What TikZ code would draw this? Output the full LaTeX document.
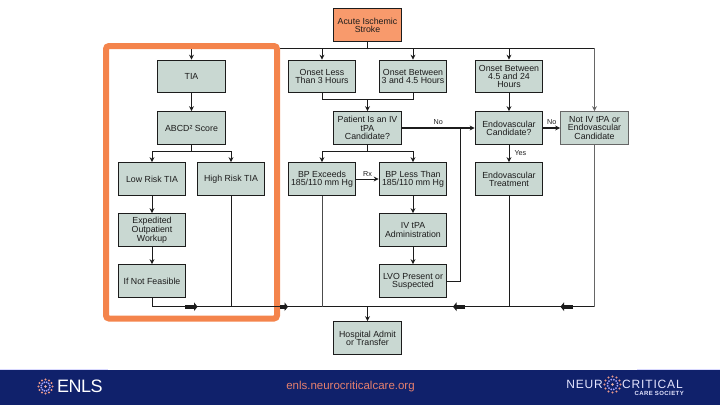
\documentclass[tikz,border=0pt]{standalone}
\usepackage{fontspec}
\setmainfont{Liberation Sans}
\newfontfamily\widefont[LetterSpace=7]{Liberation Sans}
\newfontfamily\logofont[LetterSpace=-3]{Liberation Sans}
\usetikzlibrary{arrows.meta}
\definecolor{boxfill}{HTML}{C9D8D2}
\definecolor{startfill}{HTML}{F89A6C}
\definecolor{frameorange}{HTML}{F4844C}
\definecolor{footnavy}{HTML}{10216B}
\definecolor{footsalmon}{HTML}{E5806E}
\definecolor{inkdark}{HTML}{1C1C1C}
\begin{document}
\begin{tikzpicture}[x=1pt, y=-1pt, font=\fontsize{8.8}{8.2}\selectfont, text=inkdark,
  stepbox/.style={draw=#1, line width=1.2pt, fill=boxfill, minimum width=67.5pt,
                  minimum height=32.5pt, align=center, inner sep=0pt},
  stepbox/.default=inkdark,
  wire/.style={inkdark, line width=1pt},
  arrow/.style={wire, ->, >={Stealth[length=5pt,width=5pt]}},
  fatarrow/.style={inkdark, line width=4pt, -{Triangle[length=3.5pt,width=8.5pt]}},
  greywire/.style={draw=black!60, line width=1.7pt},
  lbl/.style={font=\fontsize{7.2}{7}\selectfont, inner sep=0pt}
]
  \useasboundingbox (0,0) rectangle (720,405);
  % boxes
  \node[stepbox, fill=startfill] (acute) at (367.5,25) {Acute Ischemic\\Stroke};
  \node[stepbox] (tia)     at (191.5,76.5)  {TIA};
  \node[stepbox] (abcd)    at (191.5,128)   {ABCD² Score};
  \node[stepbox] (lowrisk) at (152,179)     {Low Risk TIA};
  \node[stepbox] (highrisk)at (231,179)     {High Risk TIA};
  \node[stepbox] (workup)  at (152,230)     {Expedited\\Outpatient\\Workup};
  \node[stepbox] (ifnot)   at (152,281)     {If Not Feasible};
  \node[stepbox] (less3)   at (322,76.5)    {Onset Less\\Than 3 Hours};
  \node[stepbox] (btw3)    at (413,76.5)    {Onset Between\\3 and 4.5 Hours};
  \node[stepbox] (btw4)    at (509,76.5)    {Onset Between\\4.5 and 24\\Hours};
  \node[stepbox] (patient) at (367.5,128)   {Patient Is an IV\\tPA\\Candidate?};
  \node[stepbox] (endocand)at (509,128)     {Endovascular\\Candidate?};
  \node[stepbox=black!60] (notiv) at (594.5,128) {Not IV tPA or\\Endovascular\\Candidate};
  \node[stepbox] (bpex)    at (322,179)     {BP Exceeds\\185/110 mm Hg};
  \node[stepbox] (bpless)  at (413,179)     {BP Less Than\\185/110 mm Hg};
  \node[stepbox] (endotx)  at (509,179)     {Endovascular\\Treatment};
  \node[stepbox] (ivtpa)   at (413,230)     {IV tPA\\Administration};
  \node[stepbox] (lvo)     at (413,281)     {LVO Present or\\Suspected};
  \node[stepbox] (hosp)    at (367.5,338)   {Hospital Admit\\or Transfer};
  % junctions
  \coordinate (topL) at (191.5,48);
  \coordinate (topM) at (367.5,48);
  \coordinate (topR) at (594.5,48);
  \coordinate (botL) at (152,306.7);
  \coordinate (botM) at (367.5,306.7);
  \coordinate (botR) at (594.5,306.7);
  \coordinate (split1) at (191.5,151);
  \coordinate (split2) at (367.5,99.5);
  \coordinate (split3) at (367.5,151);
  \coordinate (nojoin) at (460,128);
  % top rail
  \draw[wire] (acute) -- (topM);
  \draw[wire] (topL) -- (topR);
  \draw[arrow] (topL) -- (tia);
  \draw[arrow] (less3 |- topL) -- (less3);
  \draw[arrow] (btw3 |- topL) -- (btw3);
  \draw[arrow] (btw4 |- topL) -- (btw4);
  \draw[greywire, ->, >={Stealth[length=5pt,width=5pt]}] (topR) -- (notiv);
  % left column
  \draw[arrow] (tia) -- (abcd);
  \draw[wire] (abcd) -- (split1);
  \draw[arrow] (split1) -| (lowrisk);
  \draw[arrow] (split1) -| (highrisk);
  \draw[arrow] (lowrisk) -- (workup);
  \draw[arrow] (workup) -- (ifnot);
  % orange frame
  \draw[frameorange, line width=6pt, rounded corners=3pt] (106,46) rectangle (277,318.5);
  % middle
  \draw[wire] (less3) |- (split2);
  \draw[wire] (btw3) |- (split2);
  \draw[arrow] (split2) -- (patient);
  \draw[wire] (patient) -- (split3);
  \draw[arrow] (split3) -| (bpex);
  \draw[arrow] (split3) -| (bpless);
  \draw[arrow] (bpex) -- node[lbl, above=2.5pt]{Rx} (bpless);
  \draw[arrow] (bpless) -- (ivtpa);
  \draw[arrow] (ivtpa) -- (lvo);
  \draw[arrow, line width=1.5pt] (patient) -- node[lbl, above=3pt, pos=.5]{No} (endocand);
  \draw[wire] (lvo) -| (nojoin);
  % right
  \draw[arrow] (btw4) -- (endocand);
  \draw[arrow] (endocand) -- node[lbl, right=5pt]{Yes} (endotx);
  \draw[arrow, line width=1.4pt] (endocand) -- node[lbl, above=3pt]{No} (notiv);
  % bottom rail
  \draw[wire] (ifnot) |- (botL) -- (botR);
  \draw[wire] (highrisk) -- (highrisk |- botL);
  \draw[wire, black!70] (bpex) -- (bpex |- botL);
  \draw[wire] (endotx) -- (endotx |- botL);
  \draw[greywire] (notiv) -- (botR);
  \draw[arrow] (botM) -- (hosp);
  \coordinate (fat1a) at (185,306.7);  \coordinate (fat1b) at (197.5,306.7);
  \coordinate (fat2a) at (280,306.7);  \coordinate (fat2b) at (288,306.7);
  \coordinate (fat3a) at (465,306.7);  \coordinate (fat3b) at (453,306.7);
  \coordinate (fat4a) at (573,306.7);  \coordinate (fat4b) at (560.5,306.7);
  \draw[fatarrow] (fat1a) -- (fat1b);
  \draw[fatarrow] (fat2a) -- (fat2b);
  \draw[fatarrow] (fat3a) -- (fat3b);
  \draw[fatarrow] (fat4a) -- (fat4b);
  % footer
  \fill[blue!15] (0,369) rectangle (108,370);
  \fill[blue!15] (637,369) rectangle (720,370);
  \fill[footnavy] (0,370) rectangle (720,405);
  \foreach \cx/\cy/\rr in {45.5/386.5/8, 612.5/384.5/9} {
    \foreach \a in {0,30,...,330} {
      \fill[footsalmon!80!white] (\cx,\cy) ++(\a:\rr-1) circle (1.1);
      \fill[blue!35!white] (\cx,\cy) ++(\a+15:\rr*0.55) circle (1);
    }
    \fill[footsalmon!60!white] (\cx,\cy) circle (1.3);
  }
  \node[text=white, inner sep=0pt, anchor=west] (enls) at (57,386.5)
        {\logofont\fontsize{18}{18}\selectfont ENLS};
  \node[text=footsalmon, inner sep=0pt] (url) at (350.5,387)
        {\fontsize{11.5}{12}\selectfont enls.neurocriticalcare.org};
  \node[text=white!90!blue, inner sep=0pt, anchor=east] (neur) at (603,384)
        {\widefont\fontsize{12}{13}\selectfont NEUR};
  \node[text=white!90!blue, inner sep=0pt, anchor=west] (crit) at (622,384)
        {\widefont\fontsize{12}{13}\selectfont CRITICAL};
  \node[text=white!90!blue, inner sep=0pt, anchor=east] (society) at (684,393.5)
        {\widefont\bfseries\fontsize{6}{6}\selectfont CARE SOCIETY};
\end{tikzpicture}
\end{document}
